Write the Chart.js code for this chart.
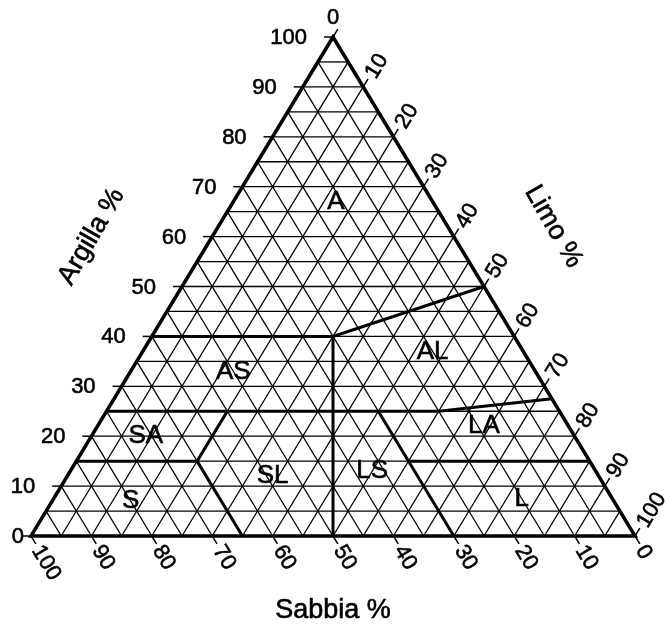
<!DOCTYPE html>
<html>
<head>
<meta charset="utf-8">
<script src="https://cdn.jsdelivr.net/npm/chart.js@4.4.1/dist/chart.umd.min.js"></script>
<style>
    body { margin: 0; background: #fff; }
</style>
</head>
<body>
<canvas id="texture-chart" width="665" height="625"></canvas>
<script>
// grid every 5 %, numbered ticks every 10 %
const gridLevels = [5, 10, 15, 20, 25, 30, 35, 40, 45, 50, 55, 60, 65, 70, 75, 80, 85, 90, 95];
const tickValues = [0, 10, 20, 30, 40, 50, 60, 70, 80, 90, 100];

// class boundaries as [argilla, limo] pairs (sabbia = 100 - argilla - limo)
const boundaryA_AL = [[40, 0], [40, 30], [50, 50]];
const boundaryVertical = [[40, 30], [0, 50]];
const boundaryMid = [[25, 0], [25, 55], [27.5, 72.5]];
const boundarySA_S = [[15, 0], [15, 20], [25, 20]];
const boundaryS_SL = [[15, 20], [0, 35]];
const boundaryLS_LA = [[25, 45], [0, 70]];
const boundaryLA_L = [[15, 55], [15, 85]];

// class names and where they sit (argilla, limo)
const classNames = ['A', 'AS', 'AL', 'SA', 'SL', 'LS', 'LA', 'S', 'L'];
const classAt = [[67, 17], [33, 17], [37, 48], [20, 9], [12, 34], [13, 50], [22, 64], [7, 13], [7.5, 77.5]];

const axisTitles = ['Argilla %', 'Limo %', 'Sabbia %'];

function tern(clay, silt) {
    return { x: silt + clay / 2, y: clay };
}

function lineSet(points, width) {
    return {
        data: points.map(p => tern(p[0], p[1])),
        showLine: true,
        borderColor: '#000',
        borderWidth: width,
        borderJoinStyle: 'miter',
        pointRadius: 0,
        clip: false,
        fill: false
    };
}

const datasets = [];

// grid lines
gridLevels.forEach(v => {
    datasets.push(lineSet([[v, 0], [v, 100 - v]], 1.3));          // argilla constant
    datasets.push(lineSet([[100 - v, v], [0, v]], 1.3));          // limo constant
    datasets.push(lineSet([[0, 100 - v], [100 - v, 0]], 1.3));    // sabbia constant
});

// ticks outside the triangle
tickValues.forEach(v => {
    datasets.push(lineSet([[v, 0], [v, -1.5]], 1.5));
    datasets.push(lineSet([[100 - v, v], [101.6 - v, v]], 1.5));
    datasets.push(lineSet([[0, 100 - v], [-1.6, 101.6 - v]], 1.5));
});

// class boundaries
[boundaryA_AL, boundaryVertical, boundaryMid, boundarySA_S, boundaryS_SL, boundaryLS_LA, boundaryLA_L]
    .forEach(b => datasets.push(lineSet(b, 3)));

// outer triangle
datasets.push(lineSet([[0, 0], [0, 100], [100, 0], [0, 0], [0, 100]], 3.5));

// a touch of stroke makes the text as heavy as the printed original
function heavyText(c, text, x, y) {
    c.fillText(text, x, y);
    c.strokeText(text, x, y);
}

const textPlugin = {
    id: 'textPlugin',
    afterDraw(chart) {
        const c = chart.ctx;
        const sx = chart.scales.x, sy = chart.scales.y;
        const px = p => ({ x: sx.getPixelForValue(p.x), y: sy.getPixelForValue(p.y) });
        c.save();
        c.fillStyle = '#000';
        c.strokeStyle = '#000';
        c.lineWidth = 0.6;
        c.font = '22px "Liberation Sans", Arial, sans-serif';

        // argilla, left side
        c.textAlign = 'right';
        c.textBaseline = 'middle';
        tickValues.forEach(v => {
            const p = px(tern(v, 0));
            const gap = v === 0 ? 7 : 26;
            heavyText(c, String(v), p.x - gap, p.y + 1);
        });

        // rotated labels along a tick direction
        function rotLabel(text, from, to) {
            const a = px(from), b = px(to);
            const ang = Math.atan2(b.y - a.y, b.x - a.x);
            c.save();
            c.translate(b.x + Math.cos(ang) * 3, b.y + Math.sin(ang) * 3);
            c.rotate(ang);
            c.textAlign = 'left';
            c.textBaseline = 'middle';
            heavyText(c, text, 0, 1);
            c.restore();
        }

        tickValues.forEach(v => {
            if (v === 0) {
                const top = px(tern(100, 0));
                c.textAlign = 'center';
                heavyText(c, '0', top.x, top.y - 19);
            } else {
                rotLabel(String(v), tern(100 - v, v), tern(101.6 - v, v));
            }
            rotLabel(String(v), tern(0, 100 - v), tern(-1.6, 101.6 - v));
        });

        // class names
        c.font = '26px "Liberation Sans", Arial, sans-serif';
        c.textAlign = 'center';
        c.textBaseline = 'middle';
        classNames.forEach((name, i) => {
            const p = px(tern(classAt[i][0], classAt[i][1]));
            heavyText(c, name, p.x, p.y);
        });

        // axis titles
        c.font = '27px "Liberation Sans", Arial, sans-serif';
        const t1 = px({ x: 10, y: 60 });
        c.save();
        c.translate(t1.x, t1.y);
        c.rotate(-Math.PI / 3);
        heavyText(c, axisTitles[0], 0, 0);
        c.restore();
        const t2 = px({ x: 86.5, y: 62 });
        c.save();
        c.translate(t2.x, t2.y);
        c.rotate(Math.PI / 3);
        heavyText(c, axisTitles[1], 0, 0);
        c.restore();
        const t3 = px({ x: 50, y: -15 });
        heavyText(c, axisTitles[2], t3.x, t3.y);
        c.restore();
    }
};

const ctx = document.getElementById('texture-chart').getContext('2d');

new Chart(ctx, {
    type: 'scatter',
    data: { datasets: datasets },
    options: {
        responsive: false,
        animation: false,
        layout: {
            padding: { left: 31, right: 30, top: 37, bottom: 89 }
        },
        scales: {
            x: { type: 'linear', min: 0, max: 100, display: false },
            y: { type: 'linear', min: 0, max: 100, display: false }
        },
        plugins: {
            legend: { display: false },
            tooltip: { enabled: false }
        }
    },
    plugins: [textPlugin]
});
</script>
</body>
</html>
